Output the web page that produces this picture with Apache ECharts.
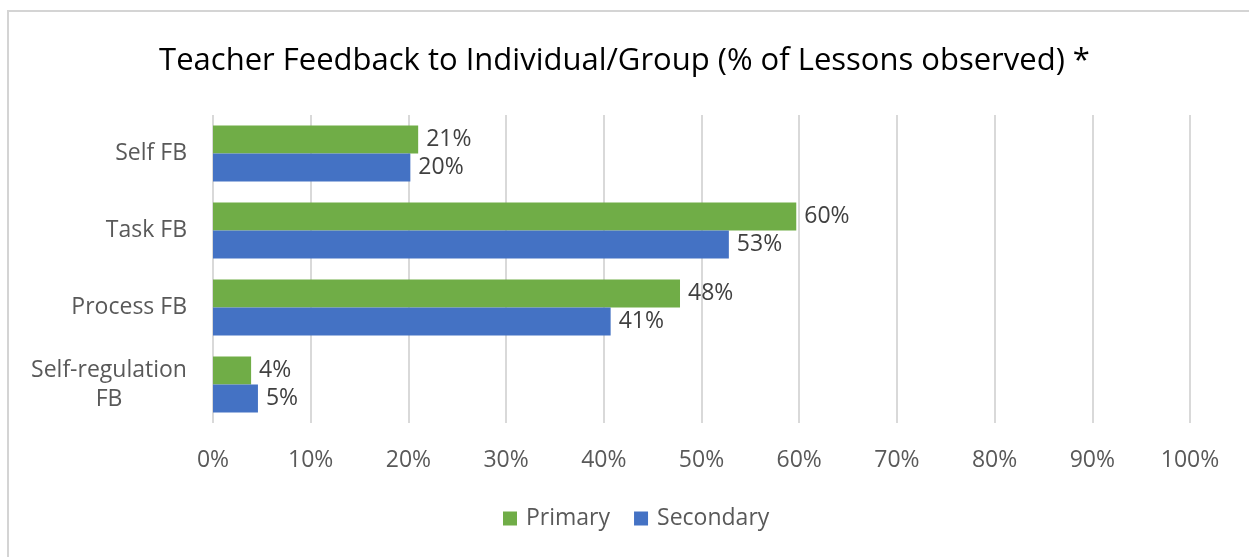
<!DOCTYPE html>
<html><head><meta charset="utf-8">
<script src="https://cdn.jsdelivr.net/npm/echarts@6/dist/echarts.min.js"></script>
<style>html,body{margin:0;padding:0;background:#fff}#c{width:1249px;height:557px}</style>
</head><body><div id="c"></div>
<script>
const categories = ['Self FB', 'Task FB', 'Process FB', 'Self-regulation\nFB'];
const primary = [21.0, 59.7, 47.8, 3.9];
const secondary = [20.2, 52.8, 40.7, 4.6];
const xTicks = [0, 10, 20, 30, 40, 50, 60, 70, 80, 90, 100];
const titleText = 'Teacher Feedback to Individual/Group (% of Lessons observed) *';
const FONT = 'Open Sans';
const chart = echarts.init(document.getElementById('c'), null, {renderer: 'canvas'});
const lbl = {show: true, position: 'right', distance: 8, color: '#404040', fontSize: 23, fontFamily: FONT,
  formatter: p => Math.round(p.value) + '%'};
chart.setOption({
  animation: false,
  title: {text: titleText, left: 'center', top: 41, textStyle: {fontFamily: FONT, fontSize: 31, fontWeight: 'normal', color: '#000'}},
  graphic: [{type: 'rect', shape: {x: 8, y: 11, width: 1300, height: 600}, style: {fill: 'none', stroke: '#d4d4d4', lineWidth: 2}, silent: true}],
  legend: {bottom: 22, left: 498, itemWidth: 14, itemHeight: 14, itemGap: 24, icon: 'rect',
    textStyle: {fontFamily: FONT, fontSize: 23, color: '#595959', padding: [0, 0, 0, 4]}},
  grid: {left: 213, right: 59, top: 115, bottom: 134},
  xAxis: {type: 'value', min: xTicks[0], max: xTicks[xTicks.length - 1], interval: 10,
    axisLabel: {formatter: v => v + '%', fontFamily: FONT, fontSize: 23, color: '#595959', margin: 26},
    splitLine: {lineStyle: {color: '#d9d9d9', width: 2}}, axisLine: {show: false}, axisTick: {show: false}},
  yAxis: {type: 'category', data: categories, inverse: true,
    axisLabel: {fontFamily: FONT, fontSize: 23, color: '#595959', margin: 26, lineHeight: 29, align: 'right',
      formatter: v => v.indexOf('\n') >= 0 ? v.split('\n').map(s => '{c|' + s + '}').join('\n') : v,
      rich: {c: {width: 156, align: 'center', fontFamily: FONT, fontSize: 23, color: '#595959', lineHeight: 29}}},
    axisLine: {show: false}, axisTick: {show: false}},
  series: [
    {name: 'Primary', type: 'bar', data: primary, itemStyle: {color: '#70AD47'}, barGap: '0%', barCategoryGap: '27%', label: lbl},
    {name: 'Secondary', type: 'bar', data: secondary, itemStyle: {color: '#4472C4'}, barGap: '0%', barCategoryGap: '27%', label: lbl}
  ]
});
</script></body></html>
